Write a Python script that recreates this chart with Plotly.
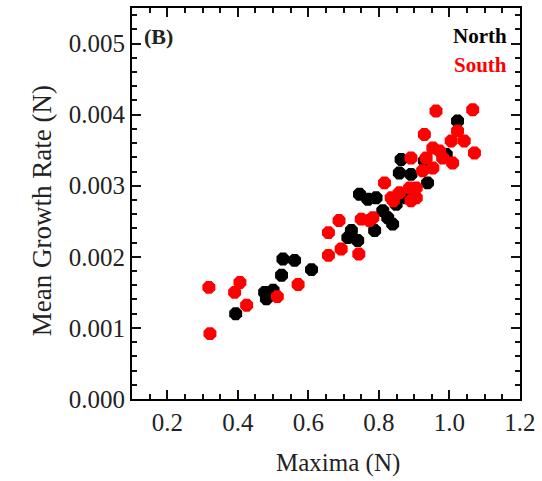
import plotly.graph_objects as go

north_x = [0.394, 0.476, 0.481, 0.524, 0.528, 0.561, 0.609, 0.500, 0.712, 0.722, 0.745, 0.740,
           0.788, 0.769, 0.792, 0.811, 0.839, 0.825, 0.849, 0.863, 0.858, 0.891, 0.929, 0.938,
           1.023, 0.991, 0.877]
north_y = [0.00120, 0.00150, 0.00141, 0.00174, 0.00197, 0.00195, 0.00182, 0.00153, 0.00227,
           0.00237, 0.00288, 0.00223, 0.00237, 0.00281, 0.00283, 0.00265, 0.00246, 0.00255,
           0.00274, 0.00337, 0.00318, 0.00316, 0.00335, 0.00304, 0.00391, 0.00344, 0.00283]

south_x = [0.318, 0.321, 0.391, 0.406, 0.425, 0.512, 0.571, 0.657, 0.687, 0.657, 0.693, 0.743,
           0.750, 0.773, 0.783, 0.816, 0.835, 0.858, 0.841, 0.887, 0.891, 0.906, 0.891, 0.906,
           0.929, 0.962, 1.066, 1.023, 1.071, 1.009, 0.953, 0.972, 0.953, 1.042, 1.005, 0.934,
           0.981, 0.924]
south_y = [0.00157, 0.00092, 0.00150, 0.00164, 0.00132, 0.00144, 0.00161, 0.00234, 0.00251,
           0.00202, 0.00211, 0.00204, 0.00253, 0.00251, 0.00255, 0.00304, 0.00283, 0.00290,
           0.00279, 0.00297, 0.00279, 0.00297, 0.00339, 0.00283, 0.00372, 0.00405, 0.00407,
           0.00377, 0.00346, 0.00332, 0.00353, 0.00349, 0.00325, 0.00363, 0.00363, 0.00339,
           0.00339, 0.00321]

x_ticks = [0.2, 0.4, 0.6, 0.8, 1.0, 1.2]
x_labels = ["0.2", "0.4", "0.6", "0.8", "1.0", "1.2"]
y_ticks = [0.000, 0.001, 0.002, 0.003, 0.004, 0.005]
y_labels = ["0.000", "0.001", "0.002", "0.003", "0.004", "0.005"]

X_RANGE = [0.1, 1.2001]
Y_RANGE = [0, 0.0055]

FONT = "Liberation Serif"
TXT = "#222"

fig = go.Figure()
fig.add_trace(go.Scatter(x=north_x, y=north_y, mode="markers", name="North",
                         marker=dict(symbol="octagon", size=14, color="black", line=dict(width=0))))
fig.add_trace(go.Scatter(x=south_x, y=south_y, mode="markers", name="South",
                         marker=dict(symbol="octagon", size=14, color="#ff0000", line=dict(width=0))))

fig.update_xaxes(range=X_RANGE, tick0=x_ticks[0], dtick=round(x_ticks[1] - x_ticks[0], 3), tickformat=".1f",
                 ticks="inside", ticklen=9, tickwidth=2, tickcolor="#111",
                 showline=True, linecolor="black", linewidth=2, mirror="ticks",
                 gridcolor="rgba(0,0,0,0)", zerolinecolor="rgba(0,0,0,0)",
                 minor=dict(ticks="inside", ticklen=5, tickcolor="#111", dtick=0.05),
                 tickfont=dict(family=FONT, size=25, color=TXT))
fig.update_yaxes(range=Y_RANGE, tick0=y_ticks[0], dtick=round(y_ticks[1] - y_ticks[0], 4), tickformat=".3f",
                 ticks="inside", ticklen=9, tickwidth=2, tickcolor="#111",
                 showline=True, linecolor="black", linewidth=2, mirror="ticks",
                 gridcolor="rgba(0,0,0,0)", zerolinecolor="rgba(0,0,0,0)",
                 minor=dict(ticks="inside", ticklen=5, tickcolor="#111", dtick=0.0002),
                 tickfont=dict(family=FONT, size=25, color=TXT))

fig.add_annotation(x=0.532, y=-0.163, xref="paper", yref="paper", text="Maxima (N)", showarrow=False,
                   xanchor="center", yanchor="middle", font=dict(family=FONT, size=25, color=TXT))
fig.add_annotation(x=-0.231, y=0.481, xref="paper", yref="paper", text="Mean Growth Rate (N)",
                   showarrow=False, textangle=-90, xanchor="center", yanchor="middle",
                   font=dict(family=FONT, size=27, color=TXT))
fig.add_annotation(x=0.025, y=0.965, xref="paper", yref="paper", text="<b>(B)</b>", showarrow=False,
                   xanchor="left", yanchor="top", font=dict(family=FONT, size=22, color=TXT))
fig.add_annotation(x=0.972, y=0.965, xref="paper", yref="paper", text="<b>North</b>", showarrow=False,
                   xanchor="right", yanchor="top", font=dict(family=FONT, size=21, color="black"))
fig.add_annotation(x=0.972, y=0.89, xref="paper", yref="paper", text="<b>South</b>", showarrow=False,
                   xanchor="right", yanchor="top", font=dict(family=FONT, size=21, color="#ff0000"))

fig.update_layout(
    width=542, height=481,
    margin=dict(l=132, r=21, t=6, b=82),
    plot_bgcolor="white",
    showlegend=False,
)

fig.write_html("out.html")
